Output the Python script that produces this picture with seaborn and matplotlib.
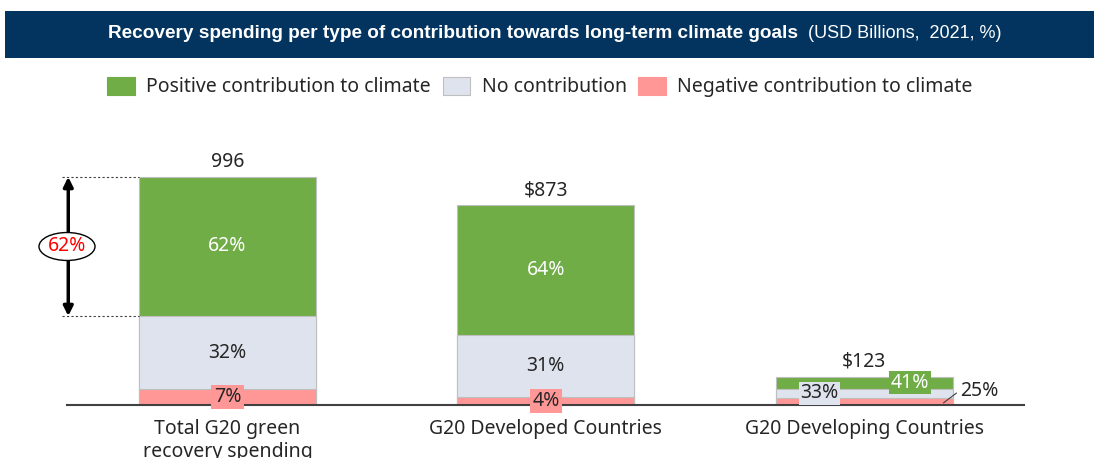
import numpy as np
import pandas as pd
import matplotlib.pyplot as plt
import seaborn as sns
from matplotlib.patches import Rectangle, Ellipse

sns.set_theme(style="white")
plt.rcParams['font.family'] = ['Noto Sans', 'DejaVu Sans']

# data
regions = ['Total G20 green\nrecovery spending', 'G20 Developed Countries', 'G20 Developing Countries']
totals = [996, 873, 123]
total_labels = ['996', '$873', '$123']
positive_pct = [62, 64, 41]
neutral_pct = [32, 31, 33]
negative_pct = [7, 4, 25]
series_names = ['Positive contribution to climate', 'No contribution', 'Negative contribution to climate']

green = '#70AD47'
grey = '#DEE3ED'
pink = '#FF9797'
navy = '#02345F'
text_col = '#262626'
fs = 14

df = pd.DataFrame({'region': regions, 'total': totals,
                   'pos': positive_pct, 'neu': neutral_pct, 'neg': negative_pct})
df['neg_val'] = df['total'] * df['neg'] / 100
df['neu_top'] = df['neg_val'] + df['total'] * df['neu'] / 100

W, H = 1094, 458
fig = plt.figure(figsize=(W / 100, H / 100), dpi=100)
ax = fig.add_axes([67 / W, 53 / H, 957 / W, 275 / H])

bw = 0.556
# stacked by overlapping cumulative heights
for col, c in [('total', green), ('neu_top', grey), ('neg_val', pink)]:
    sns.barplot(data=df, x='region', y=col, color=c, saturation=1, width=bw,
                errorbar=None, edgecolor='#BFBFBF', linewidth=0.8, ax=ax)

ax.set_xlim(-0.504, 2.502)
ax.set_ylim(0, 1201)
ax.set_xlabel('')
ax.set_ylabel('')
ax.set_yticks([])
for s in ['left', 'top', 'right']:
    ax.spines[s].set_visible(False)
ax.spines['bottom'].set_color('#404040')
ax.spines['bottom'].set_linewidth(1.5)
ax.tick_params(axis='x', length=0, pad=10, labelsize=fs, colors=text_col)

# labels
for i, r in df.iterrows():
    ax.text(i, r['total'] + 65, total_labels[i], ha='center', va='center',
            fontsize=fs, color=text_col)
    if i < 2:
        ax.text(i, (r['neu_top'] + r['total']) / 2, f"{r['pos']}%", ha='center',
                va='center', fontsize=fs, color='white')
        ax.text(i, (r['neg_val'] + r['neu_top']) / 2, f"{r['neu']}%", ha='center',
                va='center', fontsize=fs, color=text_col)
        ax.text(i, r['neg_val'] / 2, f"{r['neg']}%", ha='center', va='center',
                fontsize=fs, color=text_col,
                bbox=dict(boxstyle='square,pad=0.12', fc=pink, ec='none'))
    else:
        ax.text(i - 0.14, (r['neg_val'] + r['neu_top']) / 2, f"{r['neu']}%", ha='center',
                va='center', fontsize=fs, color=text_col,
                bbox=dict(boxstyle='square,pad=0.08', fc=grey, ec='none'))
        ax.text(i + 0.143, (r['neu_top'] + r['total']) / 2, f"{r['pos']}%", ha='center',
                va='center', fontsize=fs, color='white',
                bbox=dict(boxstyle='square,pad=0.08', fc=green, ec='none'))
        ax.plot([i + 0.249, i + 0.29], [r['neg_val'] * 0.3, r['neg_val'] * 1.7],
                color='#404040', lw=0.8)
        ax.text(i + 0.3, r['neg_val'] * 2, f"{r['neg']}%", ha='left', va='center',
                fontsize=fs, color=text_col)

# 62% bracket on the left
top0 = df.loc[0, 'total']
bot0 = df.loc[0, 'neu_top']
mid0 = (top0 + bot0) / 2
for yv in [top0, bot0]:
    ax.plot([-0.52, -bw / 2], [yv, yv], ls=(0, (2, 2)), color='#404040', lw=0.8,
            clip_on=False)
ax.annotate('', xy=(-0.5, top0), xytext=(-0.5, bot0),
            arrowprops=dict(arrowstyle='<|-|>', color='black', lw=2.5,
                            mutation_scale=14, shrinkA=0, shrinkB=0),
            annotation_clip=False)
ax.add_patch(Ellipse((-0.504, mid0), 0.176, 122, fc='white', ec='black', lw=1,
                     clip_on=False, zorder=5))
ax.text(-0.504, mid0, f"{df.loc[0, 'pos']}%", ha='center', va='center',
        fontsize=fs, color='red', clip_on=False, zorder=6)

# title banner
fig.add_artist(Rectangle((5 / W, (H - 58) / H), (W - 5) / W, 47 / H,
                         transform=fig.transFigure, fc=navy, ec='none'))
t1 = fig.text(108 / W, (H - 34) / H,
              'Recovery spending per type of contribution towards long-term climate goals',
              ha='left', va='center', color='white', fontsize=13.7, fontweight='bold',
              family=['Liberation Sans', 'DejaVu Sans'])
bb = t1.get_window_extent(fig.canvas.get_renderer())
fig.text(bb.x1 / W, (H - 34) / H, '  (USD Billions,  2021, %)', ha='left', va='center',
         color='white', fontsize=13, family=['Liberation Sans', 'DejaVu Sans'])

# legend
handles = [Rectangle((0, 0), 1, 1, fc=c, ec=e, lw=0.8)
           for c, e in [(green, green), (grey, '#BFBFBF'), (pink, pink)]]
fig.legend(handles, series_names, loc='center', bbox_to_anchor=(540 / W, (H - 87) / H),
           ncol=3, frameon=False, fontsize=fs, handlelength=1.4, handleheight=1.1,
           handletextpad=0.6, columnspacing=0.6, labelcolor=text_col)

fig.savefig('out.png', dpi=100)
